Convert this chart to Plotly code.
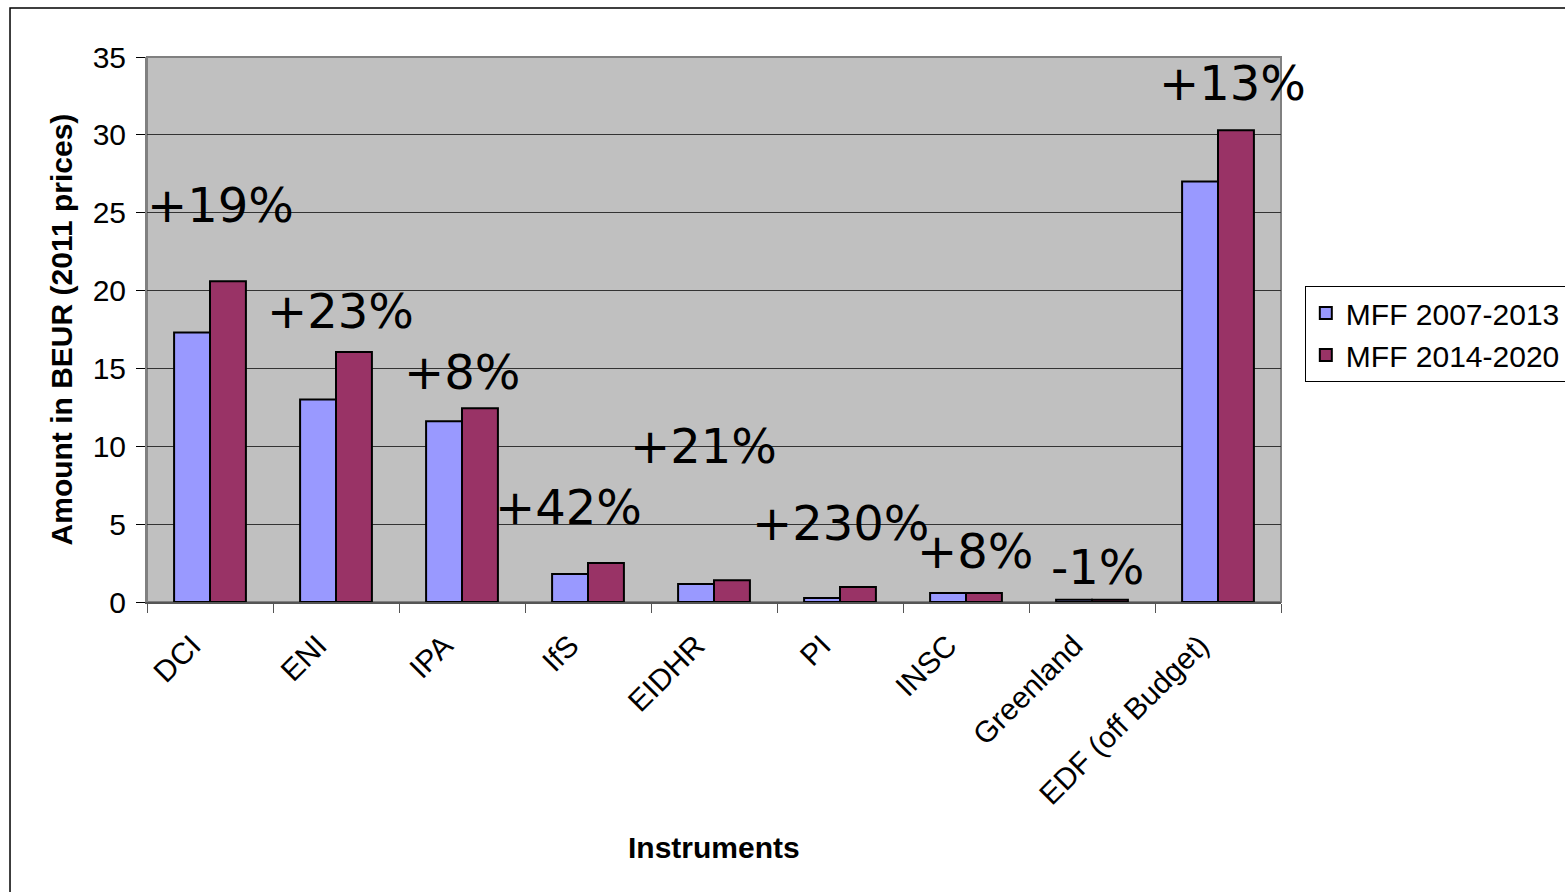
import plotly.graph_objects as go

instruments = ["DCI", "ENI", "IPA", "IfS", "EIDHR", "PI", "INSC", "Greenland", "EDF (off Budget)"]
mff_2007_2013 = [17.3, 13.0, 11.6, 1.8, 1.15, 0.26, 0.58, 0.15, 27.0]
mff_2014_2020 = [20.6, 16.05, 12.45, 2.5, 1.4, 0.96, 0.57, 0.15, 30.3]
change_labels = ["+19%", "+23%", "+8%", "+42%", "+21%", "+230%", "+8%", "-1%", "+13%"]
label_heights = [25.5, 18.7, 14.8, 6.1, 10.0, 5.1, 3.3, 2.25, 33.3]
label_shifts = [10, 4, 0, -20, -11, 0, 9, 5, 14]

fig = go.Figure()
fig.add_trace(go.Bar(
    name="MFF 2007-2013", x=instruments, y=mff_2007_2013,
    marker=dict(color="#9999FF", line=dict(color="black", width=2)),
))
fig.add_trace(go.Bar(
    name="MFF 2014-2020", x=instruments, y=mff_2014_2020,
    marker=dict(color="#993366", line=dict(color="black", width=2)),
))

for cat, txt, yv, dx in zip(instruments, change_labels, label_heights, label_shifts):
    fig.add_annotation(
        x=cat, y=yv, text=txt, showarrow=False, xshift=dx,
        font=dict(family="DejaVu Sans", size=48, color="black"),
    )

# axis titles
fig.add_annotation(
    x=0.5, y=-0.451, xref="paper", yref="paper", text="<b>Instruments</b>",
    xanchor="center", yanchor="middle",
    showarrow=False, font=dict(family="Arial", size=30, color="black"),
)
fig.add_annotation(
    x=-0.075, y=0.5, xref="paper", yref="paper", text="<b>Amount in BEUR (2011 prices)</b>",
    xanchor="center", yanchor="middle",
    showarrow=False, textangle=-90, font=dict(family="Arial", size=30, color="black"),
)

# outer chart frame
fig.add_shape(
    type="rect", xref="paper", yref="paper",
    x0=-0.1208, x1=1.26, y0=-0.56, y1=1.0899,
    line=dict(color="black", width=1.5), fillcolor="rgba(0,0,0,0)", layer="below",
)
# plot area border
fig.add_shape(type="rect", xref="paper", yref="paper", x0=0, x1=1, y0=0, y1=1,
              line=dict(color="#808080", width=2), layer="below")

fig.update_layout(
    width=1565, height=892,
    margin=dict(l=147, r=284, t=57, b=290, autoexpand=False),
    paper_bgcolor="white", plot_bgcolor="#C0C0C0",
    barmode="group", bargap=0.43, bargroupgap=0,
    font=dict(family="Arial", size=30, color="black"),
    showlegend=True,
    legend=dict(
        x=1.021, y=0.58, xanchor="left", yanchor="top",
        bordercolor="black", borderwidth=1, bgcolor="white",
        font=dict(family="Arial", size=30),
        itemsizing="constant", tracegroupgap=4,
    ),
    xaxis=dict(
        range=[-0.5, 8.5],
        tickangle=-45, tickson="boundaries", ticks="outside", ticklen=9,
        tickcolor="#555", showline=True, linecolor="#555", linewidth=2,
        tickfont=dict(family="Arial", size=30), ticklabelstandoff=12,
        ticklabelshift=-18,
    ),
    yaxis=dict(
        range=[0, 35], dtick=5, ticks="outside", ticklen=9, tickcolor="black",
        showgrid=True, gridcolor="#333", gridwidth=1,
        showline=True, linecolor="#808080", linewidth=2,
        tickfont=dict(family="Arial", size=30), zeroline=False,
        ticklabelstandoff=4,
    ),
)

fig.write_html("out.html")
